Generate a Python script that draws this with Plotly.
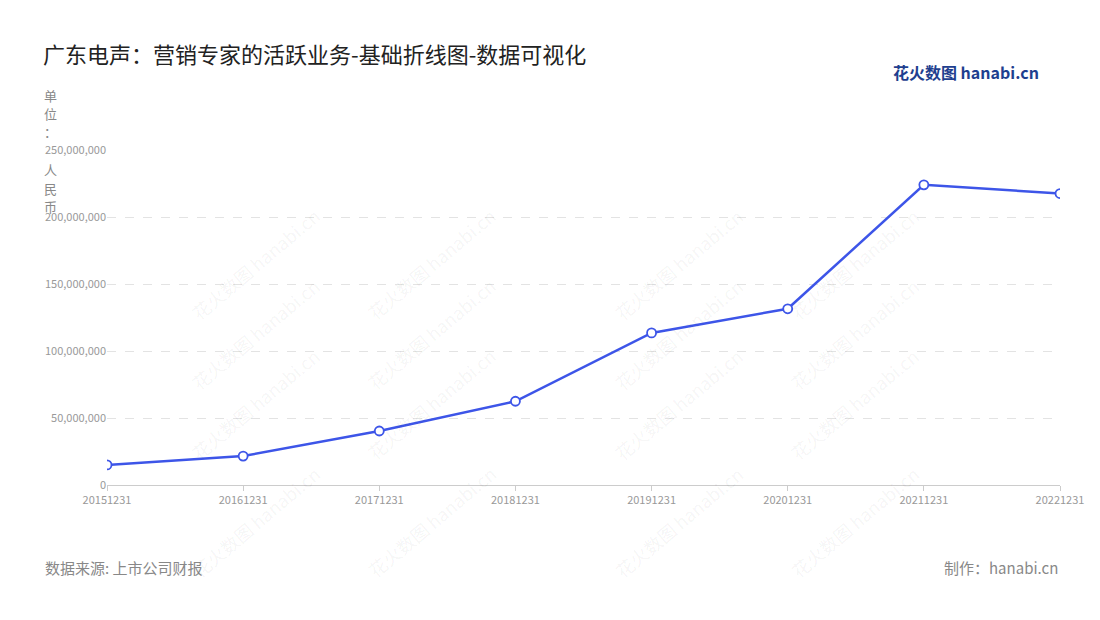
import plotly.graph_objects as go

dates = ["20151231", "20161231", "20171231", "20181231", "20191231", "20201231", "20211231", "20221231"]
values = [15000000, 21600000, 40300000, 62500000, 113500000, 131500000, 224000000, 217500000]
y_ticks = [0, 50000000, 100000000, 150000000, 200000000, 250000000]
unit_chars = ["单", "位", "：", "人", "民", "币"]

FONT = "Noto Sans CJK SC, Noto Sans, sans-serif"

fig = go.Figure()
fig.add_trace(go.Scatter(
    x=dates, y=values, mode="lines+markers",
    line=dict(color="#3d55e8", width=2.5),
    marker=dict(size=9, color="white", line=dict(color="#3d55e8", width=1.8)),
    hovertemplate="%{x}<br>%{y:,}<extra></extra>",
))

fig.update_layout(
    width=1100, height=620,
    margin=dict(l=99, r=48, t=142, b=143),
    paper_bgcolor="white", plot_bgcolor="white",
    showlegend=False,
    font=dict(family=FONT, color="#999999", size=11),
    title=dict(text="广东电声：营销专家的活跃业务-基础折线图-数据可视化",
               x=35 / 1100, xref="container", xanchor="left", y=1 - 47 / 620, yanchor="middle",
               font=dict(size=22, color="#222222", family=FONT)),
    xaxis=dict(type="category", range=[0, 7], showgrid=False, showline=True,
               linecolor="#cccccc", ticks="outside", tickcolor="#cccccc", ticklen=5,
               tickfont=dict(size=11, color="#999999")),
    yaxis=dict(range=[0, 250000000], tickvals=y_ticks, tickformat=",",
               showgrid=True, gridcolor="#e3e3e3", griddash="dash",
               zeroline=False, showline=False, tickfont=dict(size=11, color="#999999")),
)

# vertical unit label, one character per slot (slot 4 sits behind the top tick label)
unit_y = [95, 113, 132, 170, 188, 206]
for ch, yp in zip(unit_chars, unit_y):
    fig.add_annotation(text=ch, xref="paper", yref="paper",
                       x=(50 - 107) / 953, y=(485 - yp) / 335, xanchor="center", yanchor="middle",
                       showarrow=False, font=dict(size=13, color="#888888"))
fig.add_annotation(text="数据来源: 上市公司财报", xref="paper", yref="paper",
                   x=-64 / 953, y=-82 / 335, xanchor="left", yanchor="middle", showarrow=False,
                   font=dict(size=15, color="#888888"))
fig.add_annotation(text="制作：hanabi.cn", xref="paper", yref="paper",
                   x=1, y=-82 / 335, xanchor="right", yanchor="middle", showarrow=False,
                   font=dict(size=15, color="#888888"))
fig.add_annotation(text="<b>花火数图</b> <b>hanabi.cn</b>", xref="paper", yref="paper",
                   x=0.98, y=1 + 78 / 335, xanchor="right", yanchor="middle", showarrow=False,
                   font=dict(size=16, color="#1f3f8f"))

for xi in [0.08, 0.34, 0.6, 0.86]:
    for yi in [0.85, 0.45, 0.05, -0.3]:
        fig.add_annotation(text="花火数图 hanabi.cn", xref="paper", yref="paper",
                           x=xi, y=yi, showarrow=False, textangle=-40,
                           font=dict(size=18, color="rgba(0,0,0,0.05)"))

fig.write_html("out.html")
